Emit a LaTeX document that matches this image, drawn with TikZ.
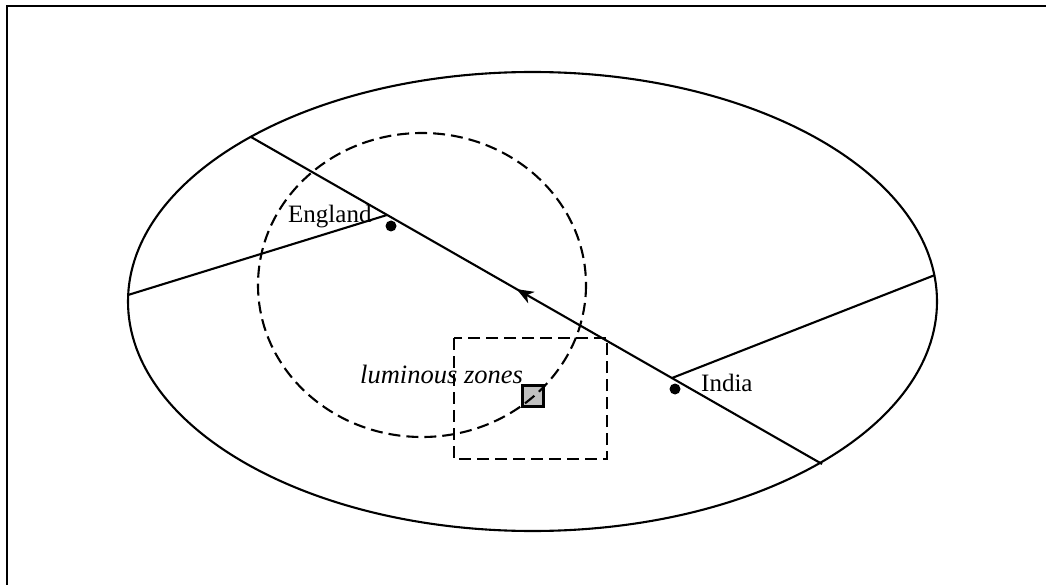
\documentclass[tikz,border=0pt]{standalone}
\usepackage{fontspec}
\setmainfont{Liberation Serif}
\usetikzlibrary{arrows.meta,decorations.markings}
\definecolor{zonegray}{HTML}{C0C0C0}
\tikzset{
  thin line/.style={line width=2.1pt, black},
  dashline/.style={line width=2.1pt, dash pattern=on 12pt off 6pt},
  place/.style={circle, fill=black, inner sep=0pt, minimum size=11pt},
  label text/.style={font=\fontsize{25}{29}\selectfont, inner sep=0pt, anchor=base west},
  zone/.style={draw, fill=zonegray, line width=2.1pt, minimum size=21pt, inner sep=0pt}
}
\begin{document}
\begin{tikzpicture}[x=1pt,y=-1pt]
\useasboundingbox (0,0) rectangle (1046,585);
% outer frame (extends past the page on the right and bottom)
\coordinate (fbl) at (7,620);
\coordinate (ftl) at (7,6);
\coordinate (ftr) at (1080,6);
\draw[line width=2.6pt] (fbl) -- (ftl) -- (ftr);

% the globe
\draw[thin line] (532.5,301.5) ellipse [x radius=404.5, y radius=229.5];

% points on the rim and on the great circle
\coordinate (rimNW) at (251,137);
\coordinate (rimSE) at (822,464);
\coordinate (rimW) at (128,295);
\coordinate (rimE) at (935,275);
\coordinate (jEng) at (387,215);
\coordinate (jInd) at (672,378);

% great circle with its direction of travel
\draw[thin line, postaction={decorate},
  decoration={markings, mark=at position 0.535 with {\arrow{Stealth[length=17pt,width=13pt,inset=5pt]}}}]
  (rimSE) -- (rimNW);
\draw[thin line] (rimW) -- (jEng);
\draw[thin line] (jInd) -- (rimE);

% places
\node[place] (england) at (391,226) {};
\node[place] (india) at (675,389) {};
\node[label text] (englandlbl) at (288,223) {England};
\node[label text] (indialbl) at (701,391) {India};

% luminous zones
\draw[dashline] (454,338) rectangle (607,459);
\node[zone] (zonebox) at (533,396) {};
\draw[dashline] (422,285) ellipse [x radius=164, y radius=152];
\node[label text, font=\fontsize{26.5}{30}\selectfont\itshape] (zonelbl) at (360,383) {luminous zones};
\end{tikzpicture}
\end{document}
